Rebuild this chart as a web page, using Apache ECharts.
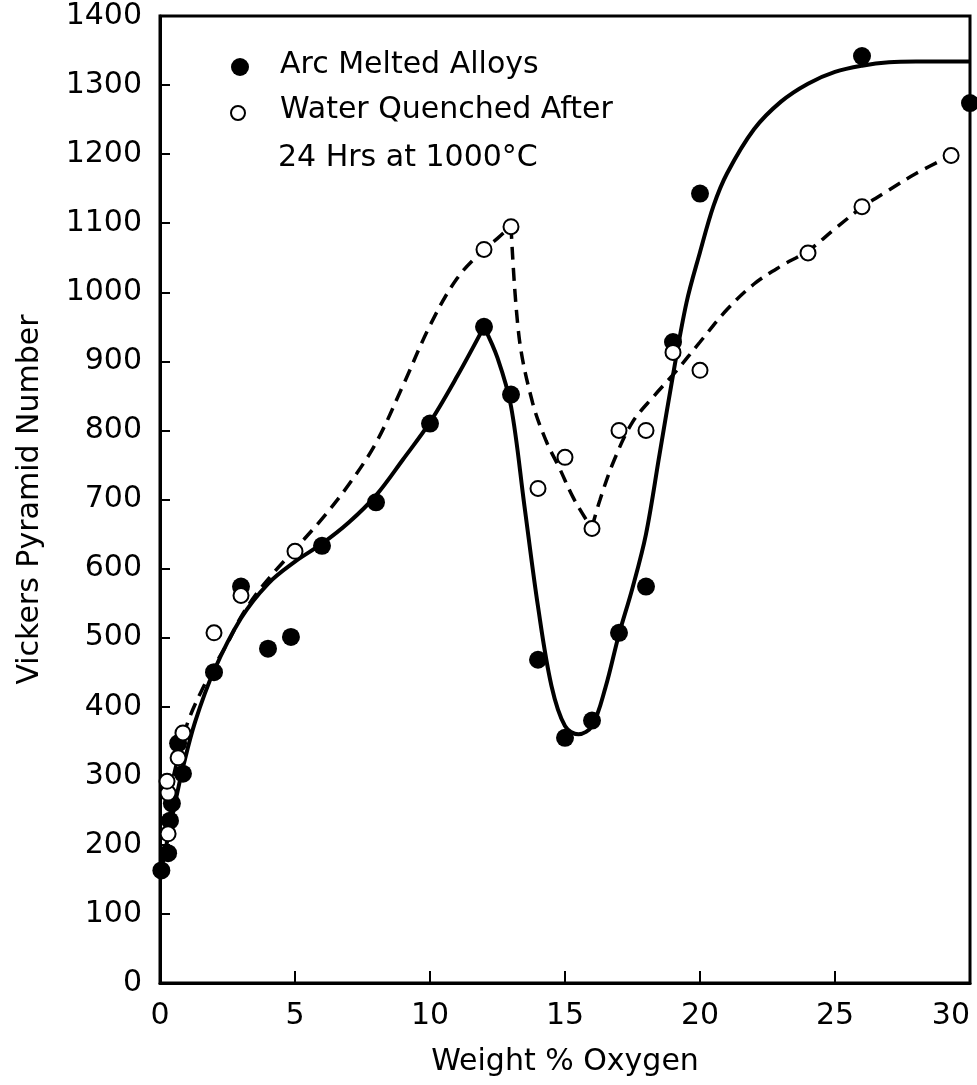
<!DOCTYPE html>
<html>
<head>
<meta charset="utf-8">
<title>Vickers Pyramid Number vs Weight % Oxygen</title>
<script src="https://cdn.jsdelivr.net/npm/echarts@6/dist/echarts.min.js"></script>
<style>
  html, body { margin: 0; padding: 0; background: #fff; }
  #chart { width: 977px; height: 1085px; }
</style>
</head>
<body>
<div id="chart"></div>
<script>
// Axis ticks
const xTickValues = [0, 5, 10, 15, 20, 25, 30];
const yTickValues = [0, 100, 200, 300, 400, 500, 600, 700, 800, 900, 1000, 1100, 1200, 1300, 1400];

// Measured hardness, arc melted alloys: [wt% O, VPN]
const arcMelted = [
  [0.05, 163], [0.3, 188], [0.37, 235], [0.44, 260], [0.85, 303], [0.67, 347],
  [2, 450], [3, 574], [4, 484], [4.85, 501], [6, 633], [8, 696], [10, 810],
  [12, 950], [13, 852], [14, 468], [15, 355], [16, 380], [17, 507], [18, 574],
  [19, 928], [20, 1143], [26, 1342], [30, 1274]
];

// Measured hardness, water quenched after 24 h at 1000 °C
const waterQuenched = [
  [0.3, 216], [0.3, 275], [0.26, 292], [0.67, 326], [0.85, 362],
  [2, 507], [3, 561], [5, 625], [12, 1062], [13, 1095], [14, 716], [15, 761],
  [16, 658], [17, 800], [18, 800], [19, 913], [20, 887], [24, 1057], [26, 1124],
  [29.3, 1198]
];

// Hand-drawn trend through the arc melted data (solid), sharp peak at 12 %
const arcTrend = [
  [0, 155], [0.3, 212], [0.6, 268], [0.85, 312], [1.3, 378], [2, 452], [3, 528],
  [4, 578], [5, 610], [6, 636], [7, 667], [8, 706], [9, 758], [10, 812],
  [11, 878], [12, 950], [12.5, 905], [13, 835], [13.5, 690], [14, 545],
  [14.5, 430], [15, 372], [15.5, 360], [16, 372], [16.5, 428], [17, 505],
  [17.5, 572], [18, 650], [18.5, 765], [19, 880], [19.5, 985], [20, 1058],
  [20.5, 1125], [21, 1172], [22, 1236], [23, 1276], [24, 1302], [25, 1319],
  [26, 1328], [27, 1333], [28, 1334], [30, 1334]
];
const arcCusps = [12];

// Hand-drawn trend through the quenched data (dashed), peak at 13 %, trough at 16 %
const quenchTrend = [
  [0.5, 300], [0.85, 355], [1.1, 385], [1.5, 420], [2, 458], [2.5, 492],
  [3, 530], [3.6, 565], [4.3, 598], [5, 628], [6, 672], [7, 722], [8, 782],
  [9, 865], [10, 952], [11, 1020], [12, 1062], [12.5, 1078], [13, 1096],
  [13.3, 935], [13.8, 840], [14.3, 785], [14.8, 745], [15.3, 703], [15.8, 670],
  [16, 660], [16.3, 700], [16.8, 755], [17.5, 812], [18.3, 850], [19.1, 885],
  [20, 928], [21, 975], [22, 1012], [23, 1038], [24, 1060], [25, 1092],
  [26, 1123], [27, 1148], [28, 1172], [29.3, 1198]
];
const quenchCusps = [13, 16];

// Break a curve into pieces at its corner points so the corners stay sharp
function splitAt(points, cusps) {
  const parts = [];
  let cur = [];
  points.forEach(p => {
    cur.push(p);
    if (cusps.indexOf(p[0]) !== -1) {
      parts.push(cur);
      cur = [p];
    }
  });
  if (cur.length > 1) parts.push(cur);
  return parts;
}

const FONT = 'DejaVu Sans';
const INK = '#000';

const lineSeries = [];
splitAt(arcTrend, arcCusps).forEach(seg => lineSeries.push({
  type: 'line', data: seg, smooth: 0.35, symbol: 'none', silent: true,
  lineStyle: { color: INK, width: 4 }, z: 2
}));
splitAt(quenchTrend, quenchCusps).forEach(seg => lineSeries.push({
  type: 'line', data: seg, smooth: 0.35, symbol: 'none', silent: true,
  lineStyle: { color: INK, width: 3.5, type: [13, 8] }, z: 2
}));

const chart = echarts.init(document.getElementById('chart'), null, { renderer: 'canvas' });

chart.setOption({
  animation: false,
  backgroundColor: '#fff',
  grid: {
    left: 160, right: 7, top: 16, bottom: 102,
    outerBoundsMode: 'none', containLabel: false,
    show: true, borderColor: INK, borderWidth: 3, backgroundColor: 'transparent'
  },
  xAxis: {
    type: 'value',
    min: xTickValues[0], max: xTickValues[xTickValues.length - 1],
    interval: xTickValues[1] - xTickValues[0],
    name: 'Weight % Oxygen', nameLocation: 'middle', nameGap: 64,
    nameTextStyle: { fontFamily: FONT, fontSize: 30, color: INK },
    axisLine: { show: true, lineStyle: { color: INK, width: 3 } },
    axisTick: { show: true, inside: true, length: 12, lineStyle: { color: INK, width: 2 } },
    axisLabel: {
      fontFamily: FONT, fontSize: 30, color: INK, margin: 18, alignMaxLabel: 'right',
      formatter: v => String(v)
    },
    splitLine: { show: false }
  },
  yAxis: {
    type: 'value',
    min: yTickValues[0], max: yTickValues[yTickValues.length - 1],
    interval: yTickValues[1] - yTickValues[0],
    name: 'Vickers Pyramid Number', nameLocation: 'middle', nameGap: 115,
    nameTextStyle: { fontFamily: FONT, fontSize: 30, color: INK },
    axisLine: { show: true, lineStyle: { color: INK, width: 3 } },
    axisTick: { show: true, inside: true, length: 10, lineStyle: { color: INK, width: 2 } },
    axisLabel: {
      fontFamily: FONT, fontSize: 30, color: INK, margin: 18,
      formatter: v => String(v)
    },
    splitLine: { show: false }
  },
  graphic: [
    { type: 'circle', left: 231, top: 58, shape: { r: 9 }, style: { fill: INK }, z: 10 },
    { type: 'text', left: 280, top: 50, style: { text: 'Arc Melted Alloys', font: '30px "DejaVu Sans"', fill: INK }, z: 10 },
    { type: 'circle', left: 230, top: 105, shape: { r: 7 }, style: { fill: '#fff', stroke: INK, lineWidth: 2 }, z: 10 },
    { type: 'text', left: 280, top: 95, style: { text: 'Water Quenched After', font: '30px "DejaVu Sans"', fill: INK }, z: 10 },
    { type: 'text', left: 278, top: 143, style: { text: '24 Hrs at 1000°C', font: '30px "DejaVu Sans"', fill: INK }, z: 10 }
  ],
  series: lineSeries.concat([
    {
      name: 'Arc Melted Alloys', type: 'scatter', data: arcMelted,
      symbol: 'circle', symbolSize: 18,
      itemStyle: { color: INK, opacity: 1 }, z: 4
    },
    {
      name: 'Water Quenched After 24 Hrs at 1000°C', type: 'scatter', data: waterQuenched,
      symbol: 'circle', symbolSize: 15,
      itemStyle: { color: '#fff', borderColor: INK, borderWidth: 2, opacity: 1 }, z: 5
    }
  ])
});
</script>
</body>
</html>
